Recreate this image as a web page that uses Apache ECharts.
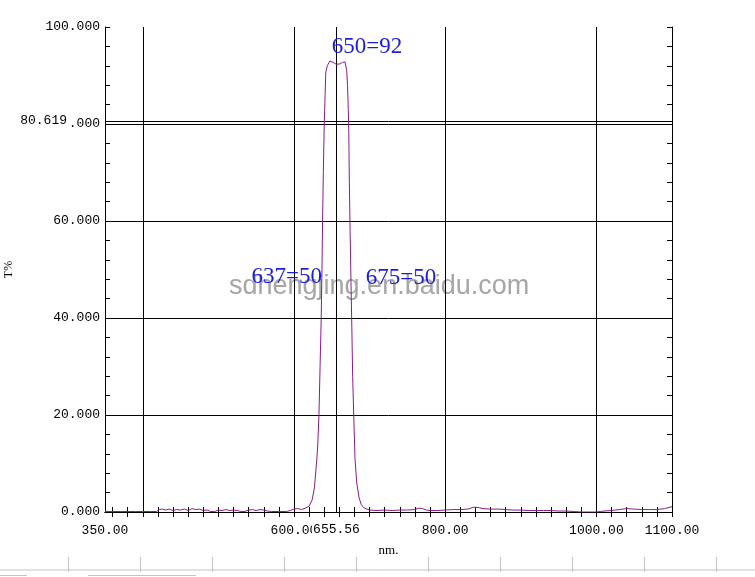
<!DOCTYPE html>
<html>
<head>
<meta charset="utf-8">
<script src="https://cdn.jsdelivr.net/npm/echarts@6/dist/echarts.min.js"></script>
<style>html,body{margin:0;padding:0;background:#fff;}#c{width:755px;height:577px;}</style>
</head>
<body>
<div id="c"></div>
<script>
// ---- data ----
var wavelength = [350,360,370,380,390,400,410,418,422,426,430,435,440,445,450,455,460,465,470,475,480,485,490,495,500,505,510,515,520,525,530,535,540,545,550,555,560,565,570,580,590,595,600,605,610,615,620,624,627,630,631.5,633,634.5,636,637,637.8,638.8,640,642,644,647.5,650,653,656,658,661,664,667.5,669.7,670.8,671.8,672.5,673.2,674.2,675.3,676.5,677.6,679,680.7,683,686,689,693,700,710,720,730,740,750,760,765,770,775,780,790,800,810,820,830,838,845,850,860,870,880,890,900,910,920,930,940,950,960,970,980,990,1000,1005,1010,1020,1030,1040,1050,1060,1070,1080,1090,1100];
var transmittance = [0.1,0.1,0.1,0.1,0.1,0.1,0.1,0.1,0.5,0.6,0.4,0.6,0.3,0.5,0.4,0.6,0.3,0.7,0.5,0.6,0.3,0.4,0.1,0.1,0.4,0.3,0.5,0.3,0.4,0.3,0.1,0.1,0.4,0.5,0.3,0.5,0.4,0.2,0.1,0.1,0.1,0.3,0.6,0.7,0.5,0.8,1.2,2.5,5,10.5,14,20,30,40,50,60,70,80,90.5,92,93,92.8,92.6,92.3,92.1,92.4,92.7,92.8,91,88,83,78,68,58,48,38,28,20,11,6,3,1.5,0.8,0.4,0.3,0.4,0.3,0.4,0.4,0.5,0.8,0.7,0.4,0.3,0.3,0.4,0.5,0.5,0.6,1.0,0.9,0.7,0.6,0.6,0.5,0.4,0.4,0.3,0.3,0.3,0.3,0.2,0.2,0.1,0,0,0,0.1,0.2,0.3,0.5,0.7,0.6,0.5,0.5,0.5,0.7,1.1];

var xLabelValues = [350, 600, 800, 1000, 1100];
var xGridValues = [400, 600, 800, 1000];
var yGridValues = [20, 40, 60, 80];
var cursorX = 655.56;
var cursorY = 80.619;

var annText = ['650=92', '637=50', '675=50'];
var annX = [650, 637, 675];
var annY = [92, 50, 50];

var xTickValues = [];
for (var t = 360; t <= 1100; t += 20) xTickValues.push(t);

// ---- chart ----
var chart = echarts.init(document.getElementById('c'), null, {renderer: 'canvas'});
var monoFont = '"Liberation Mono", "DejaVu Sans Mono", monospace';
var axisLineStyle = {color: '#000', width: 1};

var gridLineData = xGridValues.map(function (v) { return {xAxis: v}; })
  .concat(yGridValues.map(function (v) { return {yAxis: v}; }));

var annStyles = [
  {align: 'left', offset: [0, -19]},
  {align: 'right', offset: [0, 7]},
  {align: 'left', offset: [15, 8]}
];

var option = {
  backgroundColor: '#fff',
  animation: false,
  grid: {left: 105, right: 83, top: 27, bottom: 65, containLabel: false, outerBoundsMode: 'none'},
  xAxis: [{
    type: 'value', min: 350, max: 1100, position: 'bottom',
    name: 'nm.', nameLocation: 'middle', nameGap: 32,
    nameTextStyle: {color: '#000', fontFamily: '"Liberation Serif", serif', fontSize: 13},
    axisLine: {show: true, lineStyle: axisLineStyle},
    axisTick: {show: true, inside: true, length: 5, customValues: xTickValues, lineStyle: axisLineStyle},
    axisLabel: {show: true, customValues: xLabelValues, margin: 12, color: '#000', fontFamily: monoFont, fontSize: 13,
      formatter: function (v) { return v.toFixed(2); }},
    splitLine: {show: false}
  }, {
    type: 'value', min: 350, max: 1100, position: 'top',
    axisLine: {show: true, lineStyle: axisLineStyle},
    axisTick: {show: true, inside: true, length: 5, customValues: xTickValues, lineStyle: axisLineStyle},
    axisLabel: {show: false},
    splitLine: {show: false}
  }],
  yAxis: [{
    type: 'value', min: 0, max: 100, interval: 20, position: 'left',
    name: 'T%', nameLocation: 'middle', nameGap: 90,
    nameTextStyle: {color: '#000', fontFamily: '"Liberation Serif", serif', fontSize: 12},
    axisLine: {show: true, lineStyle: axisLineStyle},
    axisTick: {show: true, inside: true, length: 5, lineStyle: axisLineStyle},
    minorTick: {show: true, splitNumber: 5, length: 5, lineStyle: axisLineStyle},
    axisLabel: {show: true, margin: 5, color: '#000', fontFamily: monoFont, fontSize: 13,
      formatter: function (v) { return v.toFixed(3); }},
    splitLine: {show: false}
  }, {
    type: 'value', min: 0, max: 100, interval: 20, position: 'right',
    axisLine: {show: true, lineStyle: axisLineStyle},
    axisTick: {show: true, inside: true, length: 5, lineStyle: axisLineStyle},
    minorTick: {show: true, splitNumber: 5, length: 5, lineStyle: axisLineStyle},
    axisLabel: {show: false},
    splitLine: {show: false}
  }],
  graphic: [
    {type: 'text', left: 229, top: 273, z: 1, silent: true,
      style: {text: 'sdhengjing.en.baidu.com', fill: '#a6a6a6', font: '27px "Liberation Sans", Arial, sans-serif',
        shadowColor: 'rgba(0,0,0,0.3)', shadowBlur: 2, shadowOffsetX: 1, shadowOffsetY: 1}},
    {type: 'line', silent: true, shape: {x1: 0, y1: 570, x2: 755, y2: 570}, style: {stroke: '#c4c4c4', lineWidth: 1}},
    {type: 'line', silent: true, shape: {x1: 0, y1: 575.5, x2: 27, y2: 575.5}, style: {stroke: '#c4c4c4', lineWidth: 1}},
    {type: 'line', silent: true, shape: {x1: 88, y1: 575.5, x2: 196, y2: 575.5}, style: {stroke: '#c4c4c4', lineWidth: 1}},
    {type: 'group', silent: true, children: [68, 140, 212, 284, 356, 428, 500, 572, 644, 716].map(function (x) {
      return {type: 'line', shape: {x1: x + 0.5, y1: 557, x2: x + 0.5, y2: 572}, style: {stroke: '#c4c4c4', lineWidth: 1}};
    })}
  ],
  series: [{
    type: 'line', name: 'grid', xAxisIndex: 0, yAxisIndex: 0, data: [], clip: false, silent: true, z: 1,
    markLine: {
      silent: true, symbol: ['none', 'none'], animation: false,
      lineStyle: {color: '#000', width: 1, type: 'solid'},
      label: {show: false},
      emphasis: {disabled: true},
      data: gridLineData
    }
  }, {
    type: 'line', name: 'cursor', xAxisIndex: 0, yAxisIndex: 0, data: [], clip: false, silent: true, z: 5,
    markLine: {
      silent: true, symbol: ['none', 'none'], animation: false,
      lineStyle: {color: '#000', width: 1, type: 'solid'},
      emphasis: {disabled: true},
      data: [
        {xAxis: cursorX, label: {show: true, position: 'start', distance: 11, formatter: cursorX.toFixed(2),
          color: '#000', fontFamily: monoFont, fontSize: 13, backgroundColor: '#fff', padding: [0, 0, 0, 1]}},
        {yAxis: cursorY, label: {show: true, position: 'start', distance: 37, formatter: cursorY.toFixed(3),
          color: '#000', fontFamily: monoFont, fontSize: 13, backgroundColor: '#fff', padding: [0, 1, 0, 0]}}
      ]
    },
    markPoint: {
      silent: true, symbol: 'circle', symbolSize: 0, animation: false,
      data: annText.map(function (txt, i) {
        return {coord: [annX[i], annY[i]], label: {show: true, formatter: txt, position: 'inside',
          align: annStyles[i].align, verticalAlign: 'middle', offset: annStyles[i].offset,
          color: '#1c1ce0', fontFamily: '"Liberation Serif", "Times New Roman", serif', fontSize: 23}};
      })
    }
  }, {
    type: 'line', name: 'T%', xAxisIndex: 0, yAxisIndex: 0,
    data: wavelength.map(function (w, i) { return [w, transmittance[i]]; }),
    showSymbol: false, smooth: false, z: 10,
    lineStyle: {color: '#8c1a8c', width: 1}
  }]
};
chart.setOption(option);
</script>
</body>
</html>
